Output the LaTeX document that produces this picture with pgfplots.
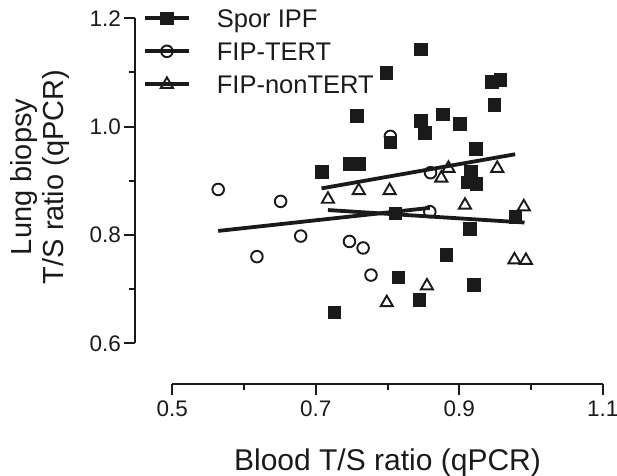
\documentclass[border=0pt]{standalone}
\usepackage{pgfplots}
\pgfplotsset{compat=1.18}
\usepackage{fontspec}
\setmainfont{Liberation Sans}
\definecolor{ink}{HTML}{1A1A1A}
\pgfplotsset{
  prismaxis/.style={
    scale only axis,
    axis line style={-, line width=2bp, ink},
    tick align=outside, major tick length=11bp, minor tick length=6bp,
    every tick/.style={line width=2bp, ink},
    tick label style={font=\fontsize{22.5bp}{26bp}\selectfont, text=ink, inner sep=2bp},
  }
}
\begin{document}
\begin{tikzpicture}
% y axis (offset to the left)
\begin{axis}[prismaxis,
  at={(-37.3bp,0bp)}, anchor=south west, width=30bp, height=325bp,
  xmin=0, xmax=1, ymin=0.6, ymax=1.2,
  axis x line=none, axis y line*=left,
  xtick=\empty,
  ytick={0.6,0.8,1.0,1.2}, yticklabels={0.6,0.8,1.0,1.2},
  minor ytick={0.7,0.9,1.1},
  yticklabel style={xshift=-1bp},
]
\end{axis}
% x axis (offset downwards)
\begin{axis}[prismaxis,
  at={(0bp,-40.7bp)}, anchor=south west, width=430.4bp, height=30bp,
  xmin=0.5, xmax=1.1, ymin=0, ymax=1,
  axis y line=none, axis x line*=bottom,
  ytick=\empty,
  xtick={0.5,0.7,0.9,1.1}, xticklabels={0.5,0.7,0.9,1.1},
  minor xtick={0.6,0.8,1.0},
  xticklabel style={yshift=-4bp},
]
\end{axis}
% data
\begin{axis}[
  at={(0bp,0bp)}, anchor=south west,
  scale only axis, width=430.4bp, height=325bp,
  xmin=0.5, xmax=1.1, ymin=0.6, ymax=1.2,
  hide axis, clip=false,
  legend image code/.code={
    \draw[line width=3.8bp, ink] (0bp,0bp) -- (44bp,0bp);
    \draw[mark repeat=2,mark phase=2,#1] plot coordinates {(0bp,0bp) (22bp,0bp) (44bp,0bp)};
  },
  reverse legend,
  legend cell align=left,
  legend style={draw=none, fill=none, inner sep=0pt, outer sep=0pt,
    at={(axis description cs:-0.068,1.0338)}, anchor=north west,
    font=\fontsize{25.5bp}{30bp}\selectfont, text=ink,
    row sep=11bp, column sep=24bp,
    nodes={inner sep=2bp, text height=18bp, text depth=0bp}},
]
% FIP-nonTERT
\addplot[only marks, mark=triangle, mark size=7bp, mark options={line width=1.9bp, draw=ink}] coordinates {
(0.717,0.866) (0.760,0.882) (0.803,0.882) (0.875,0.905) (0.885,0.923) (0.953,0.923)
(0.908,0.855) (0.990,0.852) (0.977,0.754) (0.993,0.753) (0.855,0.706) (0.799,0.675)
};
\addlegendentry{FIP-nonTERT}
% FIP-TERT
\addplot[only marks, mark=o, mark size=5.8bp, mark options={line width=1.9bp, draw=ink}] coordinates {
(0.564,0.884) (0.651,0.862) (0.679,0.798) (0.618,0.760) (0.747,0.788) (0.766,0.776)
(0.777,0.726) (0.804,0.982) (0.860,0.915) (0.859,0.843)
};
\addlegendentry{FIP-TERT}
% Spor IPF
\addplot[only marks, mark=square*, mark size=6.3bp, mark options={line width=0.5bp, draw=ink, fill=ink}] coordinates {
(0.708,0.917) (0.747,0.932) (0.760,0.932) (0.757,1.020) (0.798,1.100) (0.804,0.971)
(0.846,1.143) (0.846,1.011) (0.852,0.989) (0.877,1.023) (0.901,1.005) (0.945,1.083)
(0.957,1.087) (0.949,1.040) (0.923,0.959) (0.916,0.917) (0.911,0.897) (0.924,0.895)
(0.811,0.840) (0.978,0.834) (0.915,0.811) (0.882,0.763) (0.815,0.722) (0.920,0.708)
(0.844,0.680) (0.726,0.657)
};
\addlegendentry{Spor IPF}
% regression lines
\addplot[forget plot, no marks, line width=3.8bp, ink] coordinates {(0.708,0.886) (0.978,0.949)};
\addplot[forget plot, no marks, line width=3.8bp, ink] coordinates {(0.564,0.8075) (0.859,0.850)};
\addplot[forget plot, no marks, line width=3.8bp, ink] coordinates {(0.717,0.846) (0.991,0.823)};
% axis titles
\node[anchor=base, font=\fontsize{30bp}{34bp}\selectfont, text=ink] at (axis description cs:0.5,-0.392) {Blood T/S ratio (qPCR)};
\node[anchor=center, rotate=90, align=center, font=\fontsize{29bp}{32bp}\selectfont, text=ink] at (axis description cs:-0.307,0.512) {Lung biopsy\\T/S ratio (qPCR)};
\end{axis}
\pgfresetboundingbox
\path[use as bounding box] (-172.3bp,-132.7bp) rectangle (444.7bp,343.3bp);
\end{tikzpicture}
\end{document}
